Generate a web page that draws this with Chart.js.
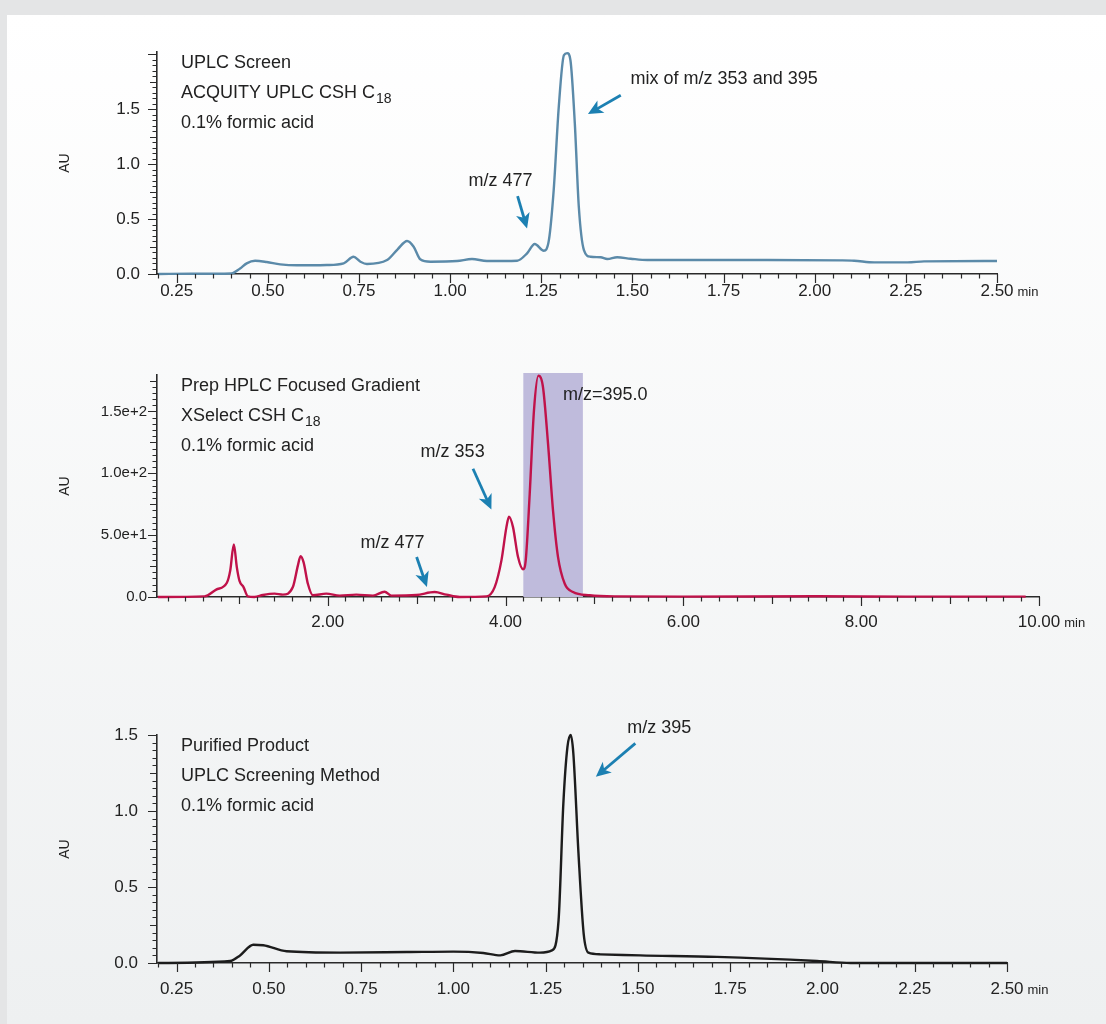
<!DOCTYPE html>
<html>
<head>
<meta charset="utf-8">
<title>Chromatograms</title>
<script src="https://cdn.jsdelivr.net/npm/chart.js@4.4.1/dist/chart.umd.min.js"></script>
<style>
  html, body { margin: 0; padding: 0; }
  body { width: 1106px; height: 1024px; background: #e4e5e6; position: relative; overflow: hidden; }
  #panel { position: absolute; left: 7px; top: 15px; right: 0; bottom: 0; background: linear-gradient(#ffffff, #eef0f1); }
  .box { position: absolute; left: 0; width: 1106px; }
</style>
</head>
<body>
<div id="panel"></div>
<div class="box" style="top:0;height:320px"><canvas id="chart1"></canvas></div>
<div class="box" style="top:320px;height:330px"><canvas id="chart2"></canvas></div>
<div class="box" style="top:650px;height:374px"><canvas id="chart3"></canvas></div>
<script>
// UPLC screen (min, AU)
const uplcTime = [0.20, 0.29, 0.40, 0.424, 0.442, 0.465, 0.497, 0.534, 0.58, 0.662, 0.708, 0.735, 0.754, 0.772,
  0.827, 0.856, 0.882, 0.90, 0.918, 0.946, 1.019, 1.06, 1.101, 1.184, 1.211, 1.232, 1.257, 1.271, 1.284, 1.298,
  1.312, 1.321, 1.330, 1.342, 1.353, 1.367, 1.385, 1.413, 1.431, 1.458, 1.495, 1.541, 1.724, 1.87, 2.07, 2.108,
  2.163, 2.255, 2.30, 2.50];
const uplcAU = [0.0, 0.002, 0.005, 0.05, 0.097, 0.12, 0.109, 0.088, 0.079, 0.082, 0.097, 0.157, 0.112, 0.091,
  0.127, 0.225, 0.30, 0.248, 0.134, 0.112, 0.118, 0.136, 0.118, 0.121, 0.188, 0.273, 0.212, 0.31, 0.76, 1.52,
  1.99, 2.01, 1.945, 1.37, 0.61, 0.218, 0.157, 0.152, 0.136, 0.152, 0.139, 0.127, 0.127, 0.127, 0.124, 0.121,
  0.106, 0.106, 0.115, 0.118];

// Prep HPLC focused gradient (min, AU)
const prepTime = [0.09, 0.615, 0.746, 0.866, 0.904, 0.944, 0.978, 1.008, 1.053, 1.102, 1.177, 1.271, 1.402, 1.496,
  1.608, 1.665, 1.695, 1.729, 1.777, 1.833, 1.984, 2.134, 2.322, 2.509, 2.64, 2.716, 2.997, 3.203, 3.335, 3.484,
  3.785, 3.878, 3.954, 4.01, 4.039, 4.084, 4.14, 4.197, 4.227, 4.272, 4.32, 4.37, 4.421, 4.478, 4.534, 4.59,
  4.666, 4.759, 4.947, 5.248, 6.0, 7.5, 8.5, 9.85];
const prepAU = [0, 0.5, 6, 11.5, 21.5, 42.5, 24, 13, 8, 0.5, 0, 1.6, 2.7, 1.9,
  8, 25.6, 33, 28, 10.7, 1.4, 2.7, 1.1, 1.9, 1.1, 4.3, 1.1, 1.6, 4, 1.9, 0,
  0.5, 8, 29.6, 56.5, 65, 56.5, 32.5, 22.4, 29.6, 83.5, 151, 179, 169.8, 124, 70, 32.5,
  10.7, 4, 1.4, 0.5, 0.3, 0.6, 0.3, 0.3];
const collectWindow = [4.20, 4.87];

// Purified product (min, AU)
const purTime = [0.20, 0.395, 0.422, 0.458, 0.485, 0.548, 0.693, 0.874, 1.0, 1.081, 1.127, 1.167, 1.235, 1.267,
  1.285, 1.298, 1.309, 1.318, 1.325, 1.339, 1.353, 1.366, 1.398, 1.506, 1.714, 1.985, 2.076, 2.50];
const purAU = [0, 0.013, 0.05, 0.12, 0.117, 0.077, 0.068, 0.072, 0.075, 0.066, 0.05, 0.079, 0.068, 0.083,
  0.28, 1.05, 1.42, 1.5, 1.38, 0.72, 0.194, 0.068, 0.057, 0.05, 0.04, 0.013, 0, 0];

// tick labels
const uplcXTicks = [0.25, 0.50, 0.75, 1.00, 1.25, 1.50, 1.75, 2.00, 2.25, 2.50];
const auYTicks = [0, 0.5, 1.0, 1.5];
const prepXTicks = [2, 4, 6, 8, 10];
const prepYTicks = [0, 50, 100, 150];

const FONT = '"Liberation Sans", Arial, sans-serif';
const AXIS = '#2a2a2a';
const TXT = '#222222';
const ARROW = '#1c80b2';

function pair(xs, ys) {
  return xs.map((x, i) => ({x: x, y: ys[i]}));
}

function marks(min, max, s) {
  const out = [];
  const on = (v, step) => Math.abs(v / step - Math.round(v / step)) < 1e-6;
  for (let n = Math.ceil(min / s.minor - 1e-6); n * s.minor <= max + 1e-9; n++) {
    const v = n * s.minor;
    out.push([v, on(v, s.major) ? 9 : on(v, s.mid) ? 7 : 4.5]);
  }
  return out;
}

// minor / major tick marks on both axes
const tickMarks = {
  id: 'tickMarks',
  afterDraw(chart, args, o) {
    const {ctx, scales: {x, y}} = chart;
    ctx.save();
    ctx.strokeStyle = AXIS;
    ctx.lineWidth = 1.2;
    ctx.beginPath();
    marks(x.min, x.max, o.x).forEach(([v, len]) => {
      const px = Math.round(x.getPixelForValue(v)) + 0.5;
      ctx.moveTo(px, x.top);
      ctx.lineTo(px, x.top + len);
    });
    marks(y.min, y.max, o.y).forEach(([v, len]) => {
      const py = Math.round(y.getPixelForValue(v)) + 0.5;
      ctx.moveTo(y.right, py);
      ctx.lineTo(y.right - len, py);
    });
    ctx.stroke();
    ctx.restore();
  }
};

function arrow(ctx, x1, y1, x2, y2) {
  const a = Math.atan2(y2 - y1, x2 - x1), L = 15, W = 7;
  const c = Math.cos(a), s = Math.sin(a);
  const bx = x2 - L * c, by = y2 - L * s;
  ctx.beginPath();
  ctx.moveTo(x1, y1);
  ctx.lineTo(x2 - 9 * c, y2 - 9 * s);
  ctx.stroke();
  ctx.beginPath();
  ctx.moveTo(x2, y2);
  ctx.lineTo(bx + W * s, by - W * c);
  ctx.lineTo(x2 - 11 * c, y2 - 11 * s);
  ctx.lineTo(bx - W * s, by + W * c);
  ctx.closePath();
  ctx.fill();
}

// text, arrows and the collected fraction band
const notes = {
  id: 'notes',
  beforeDatasetsDraw(chart, args, o) {
    if (!o.band) return;
    const {ctx, chartArea, scales: {x}} = chart;
    const x0 = x.getPixelForValue(o.band[0]), x1 = x.getPixelForValue(o.band[1]);
    ctx.save();
    ctx.fillStyle = '#bfbbdc';
    ctx.fillRect(x0, chartArea.top - 2, x1 - x0, chartArea.bottom - chartArea.top + 2);
    ctx.restore();
  },
  afterDraw(chart, args, o) {
    const {ctx, chartArea, scales: {x, y}} = chart;
    ctx.save();
    ctx.fillStyle = TXT;
    ctx.textBaseline = 'middle';
    o.title.forEach((line, i) => {
      let tx = chartArea.left + 24;
      const ty = chartArea.top + 11.5 + i * 30;
      ctx.font = '18px ' + FONT;
      ctx.textAlign = 'left';
      ctx.fillText(line[0], tx, ty);
      if (line[1]) {
        tx += ctx.measureText(line[0]).width + 1;
        ctx.font = '14px ' + FONT;
        ctx.fillText(line[1], tx, ty + 6);
      }
    });
    ctx.font = '18px ' + FONT;
    o.labels.forEach(l => {
      ctx.textAlign = l.align;
      ctx.fillText(l.text, x.getPixelForValue(l.t), y.getPixelForValue(l.au));
    });
    ctx.strokeStyle = ARROW;
    ctx.fillStyle = ARROW;
    ctx.lineWidth = 2.8;
    o.arrows.forEach(a => {
      arrow(ctx, x.getPixelForValue(a.from[0]), y.getPixelForValue(a.from[1]),
        x.getPixelForValue(a.to[0]), y.getPixelForValue(a.to[1]));
    });
    // unit after the last x tick label
    ctx.font = '17px ' + FONT;
    const last = x.ticks[x.ticks.length - 1];
    const w = ctx.measureText(last.label).width;
    ctx.fillStyle = TXT;
    ctx.textAlign = 'left';
    ctx.textBaseline = 'alphabetic';
    const base = x.top + o.xPad + 15;
    const lx = x.getPixelForValue(last.value) + w / 2 + 4;
    ctx.font = '13px ' + FONT;
    ctx.fillText('min', lx, base);
    ctx.restore();
  }
};

function build(id, s) {
  return new Chart(document.getElementById(id), {
    type: 'scatter',
    data: {
      datasets: [{
        data: pair(s.t, s.au),
        showLine: true,
        borderColor: s.color,
        borderWidth: 2.4,
        pointRadius: 0,
        cubicInterpolationMode: 'monotone',
        clip: false
      }]
    },
    options: {
      responsive: true,
      maintainAspectRatio: false,
      animation: false,
      layout: {padding: {top: s.top, right: s.right, bottom: 0, left: 0}},
      plugins: {
        legend: {display: false},
        tooltip: {enabled: false},
        tickMarks: s.marks,
        notes: Object.assign({xPad: s.xPad}, s.notes)
      },
      scales: {
        x: {
          type: 'linear', min: s.xMin, max: s.xMax,
          afterBuildTicks: sc => { sc.ticks = s.xTicks.map(v => ({value: v})); },
          afterFit: sc => { sc.height = s.xHeight; },
          grid: {display: false, drawTicks: false},
          border: {color: AXIS, width: 1.6},
          ticks: {padding: s.xPad, color: TXT, font: {family: FONT, size: 17}, maxRotation: 0, autoSkip: false,
            callback: v => v.toFixed(2)}
        },
        y: {
          type: 'linear', min: 0, max: s.yMax,
          afterBuildTicks: sc => { sc.ticks = s.yTicks.map(v => ({value: v})); },
          afterFit: sc => { sc.width = 157; },
          grid: {display: false, drawTicks: false},
          border: {color: AXIS, width: 1.6},
          ticks: {padding: s.yPad, color: TXT, font: {family: FONT, size: s.yFont}, autoSkip: false,
            callback: s.yFmt},
          title: {display: true, text: 'AU', color: TXT, font: {family: FONT, size: 14}, padding: {top: 57, bottom: 0}}
        }
      }
    },
    plugins: [tickMarks, notes]
  });
}

build('chart1', {
  t: uplcTime, au: uplcAU, color: '#5b8aa9',
  top: 52, right: 109, xHeight: 46, xPad: 7, yPad: 17, yFont: 17,
  xMin: 0.196, xMax: 2.50, xTicks: uplcXTicks,
  yMax: 2.02, yTicks: auYTicks, yFmt: v => v.toFixed(1),
  marks: {x: {minor: 0.05, mid: 0.25, major: 0.25}, y: {minor: 0.05, mid: 0.25, major: 0.5}},
  notes: {
    title: [['UPLC Screen'], ['ACQUITY UPLC CSH C', '18'], ['0.1% formic acid']],
    labels: [
      {text: 'm/z 477', t: 1.138, au: 0.845, align: 'center'},
      {text: 'mix of m/z 353 and 395', t: 1.495, au: 1.773, align: 'left'}
    ],
    arrows: [
      {from: [1.185, 0.709], to: [1.211, 0.415]},
      {from: [1.468, 1.627], to: [1.378, 1.455]}
    ]
  }
});

build('chart2', {
  t: prepTime, au: prepAU, color: '#c0124a',
  top: 55, right: 67, xHeight: 53, xPad: 15, yPad: 10, yFont: 15,
  xMin: 0.08, xMax: 10.0, xTicks: prepXTicks,
  yMax: 179.5, yTicks: prepYTicks, yFmt: v => v === 0 ? '0.0' : v.toExponential(1),
  marks: {x: {minor: 0.2, mid: 1, major: 2}, y: {minor: 5, mid: 25, major: 50}},
  notes: {
    band: collectWindow,
    title: [['Prep HPLC Focused Gradient'], ['XSelect CSH C', '18'], ['0.1% formic acid']],
    labels: [
      {text: 'm/z 353', t: 3.405, au: 116.9, align: 'center'},
      {text: 'm/z 477', t: 2.73, au: 43.4, align: 'center'},
      {text: 'm/z=395.0', t: 4.647, au: 162.9, align: 'left'}
    ],
    arrows: [
      {from: [3.634, 103.7], to: [3.841, 70.8]},
      {from: [3.0, 32.3], to: [3.116, 8.1]}
    ]
  }
});

build('chart3', {
  t: purTime, au: purAU, color: '#1c1c1c',
  top: 85, right: 99, xHeight: 61, xPad: 16, yPad: 19, yFont: 17,
  xMin: 0.197, xMax: 2.50, xTicks: uplcXTicks,
  yMax: 1.5, yTicks: auYTicks, yFmt: v => v.toFixed(1),
  marks: {x: {minor: 0.05, mid: 0.25, major: 0.25}, y: {minor: 0.05, mid: 0.25, major: 0.5}},
  notes: {
    title: [['Purified Product'], ['UPLC Screening Method'], ['0.1% formic acid']],
    labels: [
      {text: 'm/z 395', t: 1.558, au: 1.546, align: 'center'}
    ],
    arrows: [
      {from: [1.493, 1.445], to: [1.386, 1.225]}
    ]
  }
});
</script>
</body>
</html>
